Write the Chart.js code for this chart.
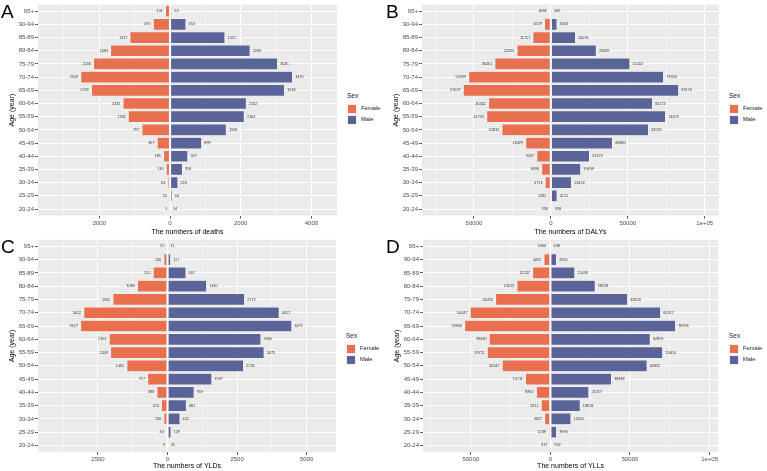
<!DOCTYPE html>
<html>
<head>
<meta charset="utf-8">
<script src="https://cdn.jsdelivr.net/npm/chart.js@4.4.1/dist/chart.umd.min.js"></script>
<style>
body { margin: 0; background: #fff; font-family: "Liberation Sans", Arial, sans-serif; }
#wrap { position: relative; width: 767px; height: 471px; overflow: hidden; }
canvas { position: absolute; }
.tag { position: absolute; font-size: 19px; line-height: 1; color: #000; }
.legend { position: absolute; color: #1a1a1a; }
.legend .ttl { position: absolute; font-size: 6.5px; line-height: 1; white-space: nowrap; }
.legend .sw { position: absolute; width: 10px; height: 10px; box-sizing: border-box; border: 0.6px solid #f2f2f2; }
.legend .lab { position: absolute; font-size: 5.8px; line-height: 1; white-space: nowrap; }
</style>
</head>
<body>
<div id="wrap"></div>
<script>
// Data
const ages = ['95+', '90-94', '85-89', '80-84', '75-79', '70-74', '65-69', '60-64',
              '55-59', '50-54', '45-49', '40-44', '35-39', '30-34', '25-29', '20-24'];

const deathsFemale = [131, 475, 1137, 1683, 2166, 2526, 2226, 1332, 1184, 797, 367, 185, 110, 63, 20, 5];
const deathsMale   = [53, 454, 1557, 2269, 3045, 3470, 3244, 2162, 2104, 1596, 899, 507, 356, 226, 64, 14];

const dalysFemale = [1084, 4229, 11757, 22095, 36461, 53499, 57027, 40562, 41759, 31831, 16429, 9207, 6036, 3774, 1282, 326];
const dalysMale   = [449, 4043, 16076, 29609, 51402, 73334, 83174, 66173, 74679, 63570, 40080, 25173, 19499, 13453, 4121, 958];

const yldsFemale = [25, 136, 520, 1083, 1965, 3012, 3127, 2102, 2049, 1465, 717, 386, 224, 136, 44, 9];
const yldsMale   = [11, 117, 667, 1410, 2774, 4017, 4471, 3360, 3475, 2736, 1597, 959, 681, 452, 129, 26];

const yllsFemale = [1060, 4092, 11237, 21022, 34476, 50447, 53900, 38460, 39711, 30347, 15711, 8851, 5812, 3637, 1238, 317];
const yllsMale   = [438, 3926, 15409, 28228, 48628, 69317, 78703, 62823, 70604, 60832, 38483, 24217, 18818, 13001, 3993, 932];

const sexes = ['Female', 'Male'];
const colFemale = '#E9704F';
const colMale = '#5B6499';

// Panels: data + axis range + layout
const panels = [
    { tag: 'A', female: deathsFemale, male: deathsMale, xTitle: 'The numbers of deaths',
      min: -3734, max: 4724, major: 2000, minor: 1000,
      left: 0, top: 0, w: 337, h: 237, areaLeft: 38, areaTop: 3, areaBottom: 215.6 },
    { tag: 'B', female: dalysFemale, male: dalysMale, xTitle: 'The numbers of DALYs',
      min: -83766, max: 109286, major: 50000, minor: 25000,
      left: 380, top: 0, w: 339, h: 237, areaLeft: 42, areaTop: 3, areaBottom: 215.6 },
    { tag: 'C', female: yldsFemale, male: yldsMale, xTitle: 'The numbers of YLDs',
      min: -4655, max: 6054, major: 2500, minor: 1250,
      left: 0, top: 235, w: 336, h: 236, areaLeft: 38, areaTop: 4.8, areaBottom: 217 },
    { tag: 'D', female: yllsFemale, male: yllsMale, xTitle: 'The numbers of YLLs',
      min: -80000, max: 105375, major: 50000, minor: 25000,
      left: 380, top: 235, w: 339, h: 236, areaLeft: 43, areaTop: 4.8, areaBottom: 217 }
];

const FONT = '"Liberation Sans", Arial, sans-serif';

function fmtTick(v) {
    const a = Math.abs(v);
    if (a >= 100000) return '1e+05';
    return String(a);
}

// grey panel background like ggplot
const panelBg = {
    id: 'panelBg',
    beforeDraw(chart) {
        const a = chart.chartArea;
        const ctx = chart.ctx;
        ctx.save();
        ctx.fillStyle = '#EBEBEB';
        ctx.fillRect(a.left, a.top, a.right - a.left, a.bottom - a.top);
        ctx.restore();
    }
};

// numbers at the bar ends
const valueLabels = {
    id: 'valueLabels',
    afterDatasetsDraw(chart) {
        const ctx = chart.ctx;
        ctx.save();
        ctx.font = '3.8px ' + FONT;
        ctx.fillStyle = '#333';
        ctx.textBaseline = 'middle';
        chart.data.datasets.forEach((ds, i) => {
            const meta = chart.getDatasetMeta(i);
            meta.data.forEach((bar, j) => {
                const v = ds.data[j];
                if (v < 0) {
                    ctx.textAlign = 'right';
                    ctx.fillText(String(-v), bar.x - 2.5, bar.y);
                } else {
                    ctx.textAlign = 'left';
                    ctx.fillText(String(v), bar.x + 2.5, bar.y);
                }
            });
        });
        ctx.restore();
    }
};

const wrap = document.getElementById('wrap');

panels.forEach(p => {
    const cv = document.createElement('canvas');
    cv.width = p.w;
    cv.height = p.h;
    cv.style.left = p.left + 'px';
    cv.style.top = p.top + 'px';
    cv.style.width = p.w + 'px';
    cv.style.height = p.h + 'px';
    wrap.appendChild(cv);

    const isMajor = v => Math.abs(v % p.major) < 1e-6;

    new Chart(cv.getContext('2d'), {
        type: 'bar',
        data: {
            labels: ages,
            datasets: [
                { label: sexes[0], data: p.female.map(v => -v), backgroundColor: colFemale,
                  borderColor: 'rgba(255,255,255,0.75)', borderWidth: 0.6, borderSkipped: false },
                { label: sexes[1], data: p.male, backgroundColor: colMale,
                  borderColor: 'rgba(255,255,255,0.75)', borderWidth: 0.6, borderSkipped: false }
            ]
        },
        options: {
            indexAxis: 'y',
            responsive: false,
            animation: false,
            devicePixelRatio: 1,
            barPercentage: 0.9,
            categoryPercentage: 1,
            layout: { padding: { left: 0, right: 0, top: p.areaTop, bottom: 0 } },
            plugins: { legend: { display: false }, tooltip: { enabled: false } },
            scales: {
                x: {
                    type: 'linear',
                    stacked: true,
                    min: p.min,
                    max: p.max,
                    afterBuildTicks(scale) {
                        const t = [];
                        for (let v = Math.ceil(p.min / p.minor) * p.minor; v <= p.max; v += p.minor) t.push({ value: v });
                        scale.ticks = t;
                    },
                    afterFit(scale) { scale.height = p.h - p.areaBottom; },
                    border: { display: false },
                    grid: {
                        color: '#FFFFFF',
                        lineWidth: ctx => (ctx.tick && isMajor(ctx.tick.value)) ? 1 : 0.5,
                        drawTicks: true,
                        tickLength: 3,
                        tickWidth: 0.8,
                        tickColor: ctx => (ctx.tick && isMajor(ctx.tick.value)) ? '#333' : 'rgba(0,0,0,0)'
                    },
                    ticks: {
                        autoSkip: false,
                        maxRotation: 0,
                        padding: 1,
                        color: '#4D4D4D',
                        font: { family: FONT, size: 6 },
                        callback: v => isMajor(v) ? fmtTick(v) : ''
                    },
                    title: {
                        display: true,
                        text: p.xTitle,
                        color: '#000',
                        font: { family: FONT, size: 7 },
                        padding: { top: 0, bottom: 1 }
                    }
                },
                y: {
                    type: 'category',
                    stacked: true,
                    afterFit(scale) { scale.width = p.areaLeft; },
                    border: { display: false },
                    grid: {
                        offset: false,
                        color: '#FFFFFF',
                        lineWidth: 1,
                        drawTicks: true,
                        tickLength: 3,
                        tickWidth: 0.8,
                        tickColor: '#333'
                    },
                    ticks: {
                        autoSkip: false,
                        padding: 1,
                        color: '#4D4D4D',
                        font: { family: FONT, size: 6 }
                    },
                    title: {
                        display: true,
                        text: 'Age (year)',
                        color: '#000',
                        font: { family: FONT, size: 7 },
                        padding: { top: p.areaLeft - 30, bottom: 0 }
                    }
                }
            }
        },
        plugins: [panelBg, valueLabels]
    });

    // panel letter
    const tag = document.createElement('div');
    tag.className = 'tag';
    tag.textContent = p.tag;
    tag.style.left = (p.left + (p.left ? 6 : 1)) + 'px';
    tag.style.top = (p.top + 2) + 'px';
    wrap.appendChild(tag);

    // legend to the right of the panel
    const lg = document.createElement('div');
    lg.className = 'legend';
    const lx = p.left + p.w + 10;
    const ly = p.top + (p.top ? 98 : 93);
    lg.style.left = lx + 'px';
    lg.style.top = ly + 'px';
    lg.innerHTML =
        '<div class="ttl" style="left:0;top:0">Sex</div>' +
        '<div class="sw" style="left:0;top:11px;background:' + colFemale + '"></div>' +
        '<div class="lab" style="left:14px;top:13px">' + sexes[0] + '</div>' +
        '<div class="sw" style="left:0;top:22px;background:' + colMale + '"></div>' +
        '<div class="lab" style="left:14px;top:24px">' + sexes[1] + '</div>';
    wrap.appendChild(lg);
});
</script>
</body>
</html>
